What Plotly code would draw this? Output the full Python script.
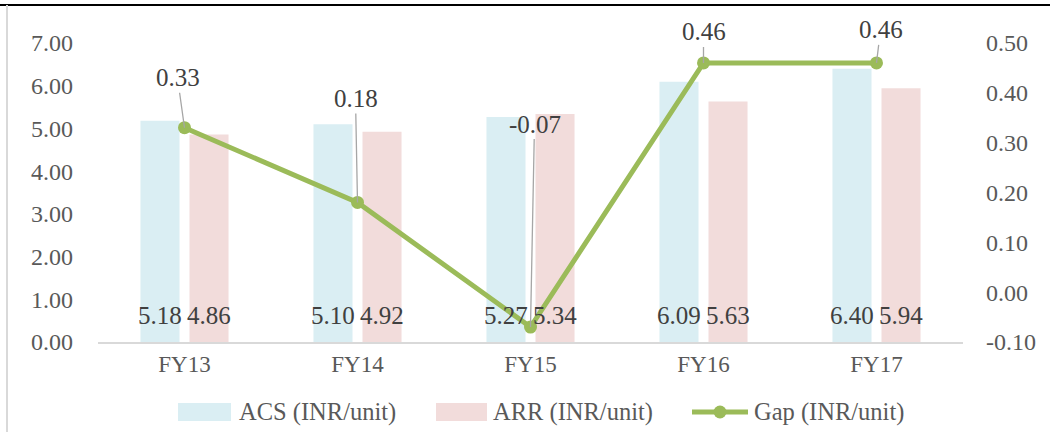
import plotly.graph_objects as go

# ---------------- data ----------------
categories = ["FY13", "FY14", "FY15", "FY16", "FY17"]
acs_values = [5.18, 5.10, 5.27, 6.09, 6.40]
arr_values = [4.86, 4.92, 5.34, 5.63, 5.94]
gap_values = [0.33, 0.18, -0.07, 0.46, 0.46]
series_names = ["ACS (INR/unit)", "ARR (INR/unit)", "Gap (INR/unit)"]
left_ticks = [0, 1, 2, 3, 4, 5, 6, 7]
right_ticks = [-0.1, 0.0, 0.1, 0.2, 0.3, 0.4, 0.5]

# ---------------- style ----------------
FONT = "Liberation Serif"
ACS_COLOR = "#DAEEF3"
ARR_COLOR = "#F2DCDB"
GAP_COLOR = "#9BBB59"
TICK_COLOR = "#595959"
LABEL_COLOR = "#404040"
W, H = 1050, 432
ML, MR, MT, MB = 98, 87, 43, 90
PW, PH = W - ML - MR, H - MT - MB

def px(x):
    return (x - ML) / PW

def py(y):
    return (H - MB - y) / PH

# label offsets (pixels) for the gap labels with leader lines
gap_label_offsets = [(-7, -50), (-2, -104), (4, -203), (0, -31), (4, -33)]

fig = go.Figure()
fig.add_trace(go.Bar(x=categories, y=acs_values, name=series_names[0],
                     marker=dict(color=ACS_COLOR, line=dict(width=0)),
                     showlegend=False, hoverinfo="skip"))
fig.add_trace(go.Bar(x=categories, y=arr_values, name=series_names[1],
                     marker=dict(color=ARR_COLOR, line=dict(width=0)),
                     showlegend=False, hoverinfo="skip"))
fig.add_trace(go.Scatter(x=categories, y=gap_values, name=series_names[2], yaxis="y2",
                         mode="lines+markers",
                         line=dict(color=GAP_COLOR, width=5),
                         marker=dict(color=GAP_COLOR, size=13),
                         cliponaxis=False, showlegend=False, hoverinfo="skip"))

annotations = []
# bar value labels near the base of each bar
for c, a, r in zip(categories, acs_values, arr_values):
    annotations.append(dict(x=c, y=0, xref="x", yref="y", text=f"{a:.2f}",
                            showarrow=False, xshift=-24.5, yshift=27,
                            font=dict(family=FONT, size=25, color=LABEL_COLOR)))
    annotations.append(dict(x=c, y=0, xref="x", yref="y", text=f"{r:.2f}",
                            showarrow=False, xshift=24.5, yshift=27,
                            font=dict(family=FONT, size=25, color=LABEL_COLOR)))
# gap labels with leader lines
for c, g, (ax, ay) in zip(categories, gap_values, gap_label_offsets):
    annotations.append(dict(x=c, y=g, xref="x", yref="y2", text=f"{g:.2f}",
                            showarrow=True, arrowhead=0, arrowwidth=1.3,
                            arrowcolor="#A6A6A6", ax=ax, ay=ay, standoff=0,
                            font=dict(family=FONT, size=25, color=LABEL_COLOR)))

# custom legend
shapes = []
legend_y = 412
legend_items = [
    ("bar", ACS_COLOR, 178, 231, 237),
    ("bar", ARR_COLOR, 436, 487, 491),
    ("line", GAP_COLOR, 692, 748, 752),
]
for name, (kind, col, x0, x1, tx) in zip(series_names, legend_items):
    if kind == "bar":
        shapes.append(dict(type="rect", xref="paper", yref="paper",
                           x0=px(x0), x1=px(x1), y0=py(legend_y - 9), y1=py(legend_y + 9),
                           fillcolor=col, line=dict(width=0)))
    else:
        shapes.append(dict(type="line", xref="paper", yref="paper",
                           x0=px(x0), x1=px(x1), y0=py(legend_y), y1=py(legend_y),
                           line=dict(color=col, width=5)))
        cx = (x0 + x1) / 2
        shapes.append(dict(type="circle", xref="paper", yref="paper",
                           x0=px(cx - 6.5), x1=px(cx + 6.5),
                           y0=py(legend_y + 6.5), y1=py(legend_y - 6.5),
                           fillcolor=col, line=dict(width=0)))
    annotations.append(dict(x=px(tx), y=py(legend_y), xref="paper", yref="paper",
                            xanchor="left", yanchor="middle", text=name, showarrow=False,
                            font=dict(family=FONT, size=24.5, color=TICK_COLOR)))

# page borders
shapes.append(dict(type="line", xref="paper", yref="paper",
                   x0=px(0), x1=px(W), y0=py(5), y1=py(5),
                   line=dict(color="#000000", width=2)))
shapes.append(dict(type="line", xref="paper", yref="paper",
                   x0=px(7), x1=px(7), y0=py(5), y1=py(H),
                   line=dict(color="#D9D9D9", width=2)))

fig.update_layout(
    width=W, height=H,
    margin=dict(l=ML, r=MR, t=MT, b=MB, pad=0),
    paper_bgcolor="white", plot_bgcolor="white",
    barmode="group", bargap=0.433, bargroupgap=0.204,
    font=dict(family=FONT, size=24, color=TICK_COLOR),
    xaxis=dict(type="category", range=[-0.5, 4.5], showgrid=False, zeroline=False,
               showline=True, linecolor="#D9D9D9", linewidth=2, ticks="",
               tickfont=dict(family=FONT, size=23, color=TICK_COLOR),
               ticklabelstandoff=0),
    yaxis=dict(range=[0, 7], tickvals=left_ticks,
               ticktext=[f"{v:.2f}" for v in left_ticks], showgrid=False,
               zeroline=False, showline=False, ticks="",
               tickfont=dict(family=FONT, size=24, color=TICK_COLOR),
               ticklabelstandoff=24),
    yaxis2=dict(range=[-0.1, 0.5], tickvals=right_ticks,
                ticktext=[f"{v:.2f}" for v in right_ticks],
                overlaying="y", side="right", showgrid=False, zeroline=False,
                showline=False, ticks="",
                tickfont=dict(family=FONT, size=24, color=TICK_COLOR),
                ticklabelstandoff=22),
    annotations=annotations,
    shapes=shapes,
    showlegend=False,
)

fig.write_html("out.html", config={"displayModeBar": False},
               post_script="document.body.style.margin='0';document.body.style.overflow='hidden';")
